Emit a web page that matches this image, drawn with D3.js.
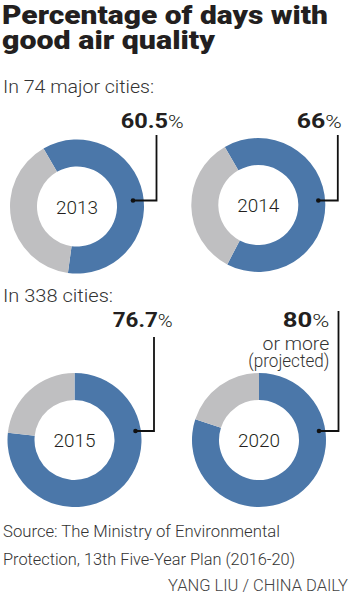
<!DOCTYPE html>
<html>
<head>
<meta charset="utf-8">
<script src="https://cdn.jsdelivr.net/npm/d3@7"></script>
<style>
  html, body { margin: 0; padding: 0; background: #fff; }
  svg { display: block; }
</style>
</head>
<body>
<svg id="chart" width="355" height="600"></svg>
<script>
// ---- data ----
const titleLines = ["Percentage of days with", "good air quality"];
const groupLabels = ["In 74 major cities:", "In 338 cities:"];
const years = ["2013", "2014", "2015", "2020"];
const values = [60.5, 66, 76.7, 80];
const valueLabels = ["60.5", "66", "76.7", "80"];
const extraLabels = [[], [], [], ["or more", "(projected)"]];
const groupOf = [0, 0, 1, 1];
const sourceLines = ["Source: The Ministry of Environmental", "Protection, 13th Five-Year Plan (2016-20)"];
const credit = "YANG LIU / CHINA DAILY";

// ---- layout / style ----
const BLUE = "#4b77a9", GRAY = "#bfbfc1", INK = "#231f20", TXT = "#333333";
const BODY = "Roboto, 'Open Sans', 'Liberation Sans', sans-serif";
const layout = [
  { cx: 77,    cy: 206.5, start: -30, lx: 120.7, ly: 128.3, lw: 63, anchor: "start", lineTop: 135, dotDx: 56, elbowDy: -6 },
  { cx: 258.3, cy: 205,   start: -30, lx: 296.7, ly: 128.3, lw: 45, anchor: "start", lineTop: 135, dotDx: 60, elbowDy: -4.5 },
  { cx: 74.5,  cy: 440,   start: 0,   lx: 112.7, ly: 326.7, lw: 60, anchor: "start", lineTop: 337, dotDx: 61, elbowDy: -9 },
  { cx: 259,   cy: 440,   start: 0,   lx: 329.3, ly: 326.7, lw: 46.6, anchor: "end", lineTop: 311, dotDx: 60, elbowDy: -9 }
];
const extraW = [66.7, 81];
const outerR = 67, innerR = 40, lineDx = 79.5;

const svg = d3.select("#chart");

// stretch text horizontally to the measured width (keeps font height)
function fitWidth(sel, target) {
  sel.attr("textLength", target).attr("lengthAdjust", "spacingAndGlyphs");
}

// title
const t1 = svg.append("text").attr("x", 2).attr("y", 24).attr("font-family", BODY)
  .attr("font-weight", 900).attr("font-size", 25).attr("fill", INK).text(titleLines[0]);
fitWidth(t1, 326);
const t2 = svg.append("text").attr("x", 2).attr("y", 49).attr("font-family", BODY)
  .attr("font-weight", 900).attr("font-size", 25).attr("fill", INK).text(titleLines[1]);
fitWidth(t2, 213);

// group labels
const groupY = [93, 302];
const groupW = [151, 110];
groupLabels.forEach((g, i) => {
  const s = svg.append("text").attr("x", 3).attr("y", groupY[i]).attr("font-family", BODY)
    .attr("font-weight", 300).attr("font-size", 18).attr("fill", TXT).text(g);
  fitWidth(s, groupW[i]);
});

// donuts
const angle = d3.scaleLinear().domain([0, 100]).range([0, 2 * Math.PI]);
const arc = d3.arc().innerRadius(innerR).outerRadius(outerR);

years.forEach((yr, i) => {
  const L = layout[i];
  const pie = d3.pie().sort(null).value(d => d)
    .startAngle(L.start * Math.PI / 180)
    .endAngle(L.start * Math.PI / 180 + angle(100));
  const slices = pie([values[i], 100 - values[i]]);
  const g = svg.append("g").attr("transform", `translate(${L.cx},${L.cy})`);
  g.selectAll("path").data(slices).join("path")
    .attr("d", arc).attr("fill", (d, j) => j === 0 ? BLUE : GRAY);

  const yt = g.append("text").attr("x", 0).attr("y", 7).attr("text-anchor", "middle")
    .attr("font-family", BODY).attr("font-weight", 300).attr("font-size", 19)
    .attr("fill", INK).text(yr);
  fitWidth(yt, 42);

  // leader
  const ex = L.cx + lineDx, ey = L.cy + L.elbowDy;
  svg.append("path")
    .attr("d", `M${ex},${L.lineTop}V${ey}H${L.cx + L.dotDx}`)
    .attr("fill", "none").attr("stroke", "#111").attr("stroke-width", 1.8);
  svg.append("circle").attr("cx", L.cx + L.dotDx).attr("cy", ey).attr("r", 2.3).attr("fill", "#111");

  // value label
  const lab = svg.append("text").attr("x", L.lx).attr("y", L.ly).attr("text-anchor", L.anchor)
    .attr("font-family", BODY).attr("fill", INK);
  lab.append("tspan").attr("font-weight", 700).attr("font-size", 20).text(valueLabels[i]);
  lab.append("tspan").attr("font-weight", 300).attr("font-size", 18).text("%");
  fitWidth(lab, L.lw);

  extraLabels[i].forEach((e, k) => {
    const et = svg.append("text").attr("x", L.lx).attr("y", L.ly + 23.3 + k * 16.7)
      .attr("text-anchor", L.anchor).attr("font-family", BODY).attr("font-weight", 300)
      .attr("font-size", 17.5).attr("fill", TXT).text(e);
    fitWidth(et, extraW[k]);
  });
});

// source
const srcW = [277, 292];
sourceLines.forEach((s, i) => {
  const t = svg.append("text").attr("x", 3).attr("y", 537 + i * 28).attr("font-family", BODY)
    .attr("font-weight", 300).attr("font-size", 16).attr("fill", TXT).text(s);
  fitWidth(t, srcW[i]);
});
const cr = svg.append("text").attr("x", 348).attr("y", 591).attr("text-anchor", "end")
  .attr("font-family", BODY).attr("font-weight", 300).attr("font-size", 16).attr("fill", "#444").text(credit);
fitWidth(cr, 180);
</script>
</body>
</html>
